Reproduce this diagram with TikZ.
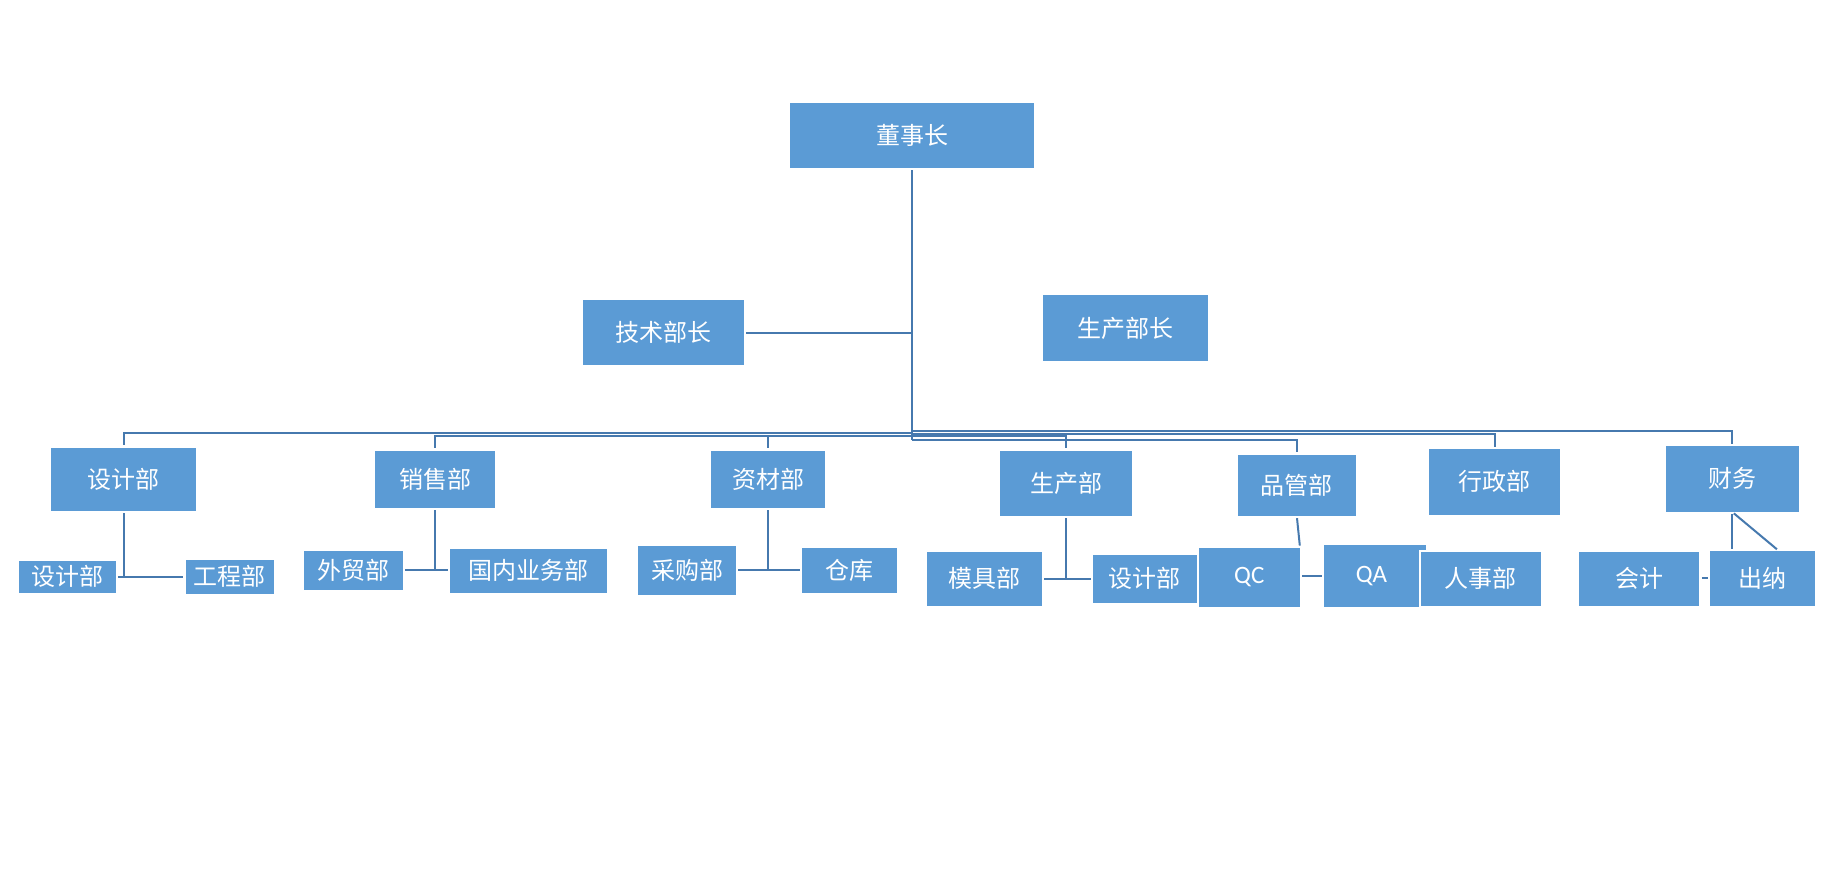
\documentclass[tikz,border=0pt]{standalone}
\usepackage{fontspec}
\newfontfamily\cjk{Noto Sans CJK SC}
\newfontfamily\latinfont{Carlito}
\usetikzlibrary{positioning}
\definecolor{boxblue}{HTML}{5B9BD5}
\definecolor{lineblue}{HTML}{4679AE}
\tikzset{
    %Define style for boxes
    unit/.style={
           rectangle,
           fill=boxblue,
           text=white,
           inner sep=0pt,
           font=\cjk\fontsize{12}{14}\selectfont,
           text centered},
    latin/.style={
           font=\latinfont\fontsize{12.5}{14}\selectfont},
    boxsize/.style 2 args={
           minimum width=#1*0.5pt,
           minimum height=#2*0.5pt},
    % Define line style
    link/.style={
           -,
           draw=lineblue,
           line width=1pt,
           shorten <=1pt,
           shorten >=1pt}
}

\begin{document}
\begin{tikzpicture}[x=0.5pt,y=-0.5pt]
\useasboundingbox (0,0) rectangle (1830,872);

% top
\node[unit, boxsize={244}{65}](chair) at (912,135.5){董事长};
\node[unit, boxsize={161}{65}](tech) at (663.5,332.5){技术部长};
\node[unit, boxsize={165}{66}](prodhead) at (1125.5,328){生产部长};

% departments
\node[unit, boxsize={145}{63}](design) at (123.5,479.3){设计部};
\node[unit, boxsize={120}{57}](sales) at (435,479.3){销售部};
\node[unit, boxsize={114}{57}](material) at (768,479.3){资材部};
\node[unit, boxsize={132}{65}](production) at (1066,483.3){生产部};
\node[unit, boxsize={117.5}{61}](quality) at (1296.8,485.3){品管部};
\node[unit, boxsize={131.4}{65.7}](admin) at (1494.7,481.8){行政部};
\node[unit, boxsize={132.7}{65.7}](finance) at (1732.3,478.8){财务};

% sections
\node[unit, boxsize={96.5}{31.7}](design2) at (67.3,576.8){设计部};
\node[unit, boxsize={87.8}{33.7}](eng) at (229.7,576.8){工程部};
\node[unit, boxsize={98.5}{38.7}](trade) at (353.3,570.3){外贸部};
\node[unit, boxsize={157}{43.7}](domestic) at (528.5,570.8){国内业务部};
\node[unit, boxsize={98}{48.7}](purchase) at (687,570.3){采购部};
\node[unit, boxsize={95}{44.7}](store) at (849.5,570.3){仓库};
\node[unit, boxsize={115}{53.7}](mould) at (984.5,578.8){模具部};
\node[unit, boxsize={103.6}{47.7}](design3) at (1144.8,578.8){设计部};
\node[unit, latin, boxsize={100.6}{58.7}](qc) at (1249.3,577.3){QC};
\node[unit, latin, boxsize={95}{61.7}](qa) at (1371.5,575.8){QA};
\fill[boxblue] (qa.north west) rectangle ++(102.7,5);
\node[unit, boxsize={119.7}{53.8}](hr) at (1480.9,578.6){人事部};
\node[unit, boxsize={120.4}{53.7}](acct) at (1639.2,578.8){会计};
\node[unit, boxsize={104.7}{54.7}](cashier) at (1762.4,578.3){出纳};

% trunk and bus
\coordinate (trunk) at (chair.south |- 0,440);
\draw[link, shorten >=0pt] (chair.south) -- (trunk);
\draw[link, shorten >=0pt] (tech.east) -- (tech.east -| trunk);
\foreach \n/\y in {design/433.3, sales/435.7, material/435.7, production/435.5,
                   quality/440, admin/433.5, finance/430.7}
    \draw[link, shorten <=0pt] (trunk |- 0,\y) -| (\n.north);

% lower links
\draw[link, shorten >=0pt] (design.south) -- (design.south |- eng.west);
\draw[link] (design2.east |- eng.west) -- (eng.west);
\draw[link, shorten >=0pt] (sales.south) -- (sales.south |- trade.east);
\draw[link] (trade.east) -- (trade.east -| domestic.west);
\draw[link, shorten >=0pt] (material.south) -- (material.south |- store.west);
\draw[link] (purchase.east) -- (store.west);
\draw[link, shorten >=0pt] (production.south) -- (production.south |- design3.west);
\draw[link] (mould.east) -- (design3.west);
\draw[link] (quality.south) -- (qc.north east);
\draw[link] (qa.west -| qc.east) -- (qa.west);
\draw[link] (finance.south) -- (finance.south |- cashier.north);
\draw[link] (finance.south) -- (cashier.60);
\draw[link] (acct.east |- cashier.west) -- (cashier.west);

\end{tikzpicture}
\end{document}
